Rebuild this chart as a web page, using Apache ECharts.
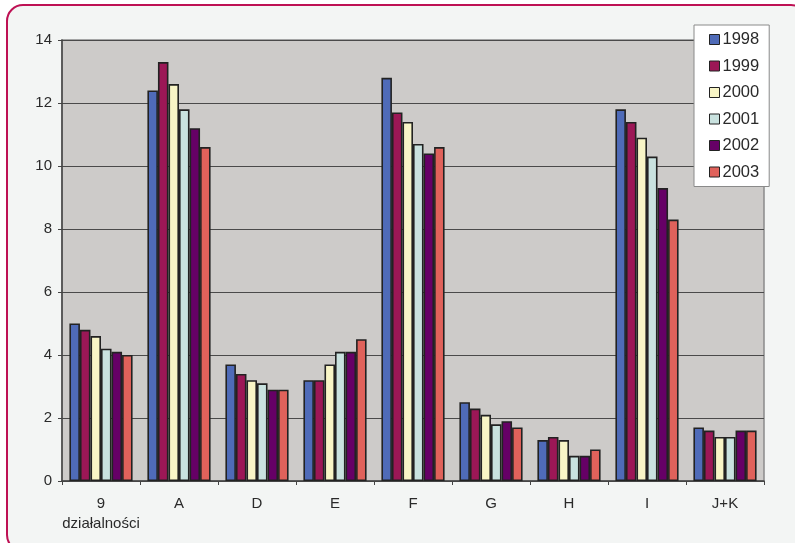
<!DOCTYPE html>
<html>
<head>
<meta charset="utf-8">
<script src="https://cdn.jsdelivr.net/npm/echarts@6/dist/echarts.min.js"></script>
<style>
html,body{margin:0;padding:0;background:#ffffff;}
#chart{width:795px;height:543px;}
</style>
</head>
<body>
<div id="chart"></div>
<script>
var categories = ['9\ndziałalności', 'A', 'D', 'E', 'F', 'G', 'H', 'I', 'J+K'];
var years = ['1998', '1999', '2000', '2001', '2002', '2003'];
var v1998 = [5.0, 12.4, 3.7, 3.2, 12.8, 2.5, 1.3, 11.8, 1.7];
var v1999 = [4.8, 13.3, 3.4, 3.2, 11.7, 2.3, 1.4, 11.4, 1.6];
var v2000 = [4.6, 12.6, 3.2, 3.7, 11.4, 2.1, 1.3, 10.9, 1.4];
var v2001 = [4.2, 11.8, 3.1, 4.1, 10.7, 1.8, 0.8, 10.3, 1.4];
var v2002 = [4.1, 11.2, 2.9, 4.1, 10.4, 1.9, 0.8, 9.3, 1.6];
var v2003 = [4.0, 10.6, 2.9, 4.5, 10.6, 1.7, 1.0, 8.3, 1.6];
var yTicks = [0, 2, 4, 6, 8, 10, 12, 14];

var seriesValues = [v1998, v1999, v2000, v2001, v2002, v2003];
var colors = ['#4F6BB8', '#9C1756', '#F8F5C6', '#C9E2DF', '#660066', '#E0625B'];

var chart = echarts.init(document.getElementById('chart'), null, {renderer: 'canvas'});
var option = {
  animation: false,
  backgroundColor: '#ffffff',
  textStyle: {fontFamily: 'Liberation Sans, Arial, sans-serif'},
  graphic: [{
    type: 'rect', z: -10, silent: true,
    shape: {x: 7, y: 5, width: 800, height: 546, r: 16},
    style: {fill: '#F3F5F4', stroke: '#BE1154', lineWidth: 2}
  }],
  color: colors,
  grid: {
    left: 62, right: 31, top: 40, bottom: 62,
    show: true, backgroundColor: '#CDCBC9', borderColor: '#8a8a8a', borderWidth: 1.5
  },
  legend: {
    orient: 'vertical',
    left: 694, top: 25,
    width: 80,
    padding: [6, 10, 6, 15],
    itemWidth: 10, itemHeight: 10, itemGap: 9.5,
    backgroundColor: '#ffffff',
    borderColor: '#8a8a8a', borderWidth: 1,
    textStyle: {fontSize: 16.5, lineHeight: 17, color: '#2a2a2a', padding: [0, 0, 0, -2]},
    itemStyle: {borderColor: '#222', borderWidth: 1},
    data: years.map(function (y) { return {name: y, icon: 'rect'}; })
  },
  xAxis: {
    type: 'category',
    data: categories,
    axisLine: {lineStyle: {color: '#444', width: 1.5}},
    axisTick: {show: true, length: 4, interval: 0, lineStyle: {color: '#444'}},
    axisLabel: {fontSize: 15, color: '#2a2a2a', margin: 13, lineHeight: 20, interval: 0}
  },
  yAxis: {
    type: 'value',
    min: yTicks[0], max: yTicks[yTicks.length - 1], interval: 2,
    axisLine: {show: true, lineStyle: {color: '#444', width: 1.5}},
    axisTick: {show: true, length: 4, lineStyle: {color: '#444'}},
    axisLabel: {fontSize: 15, color: '#2a2a2a', margin: 10},
    splitLine: {lineStyle: {color: '#4a4a4a', width: 1}}
  },
  series: years.map(function (y, i) {
    return {
      name: y,
      type: 'bar',
      data: seriesValues[i],
      barGap: '0%',
      barCategoryGap: '19%',
      itemStyle: {color: colors[i], borderColor: '#222', borderWidth: 1.6}
    };
  })
};
chart.setOption(option);
</script>
</body>
</html>
